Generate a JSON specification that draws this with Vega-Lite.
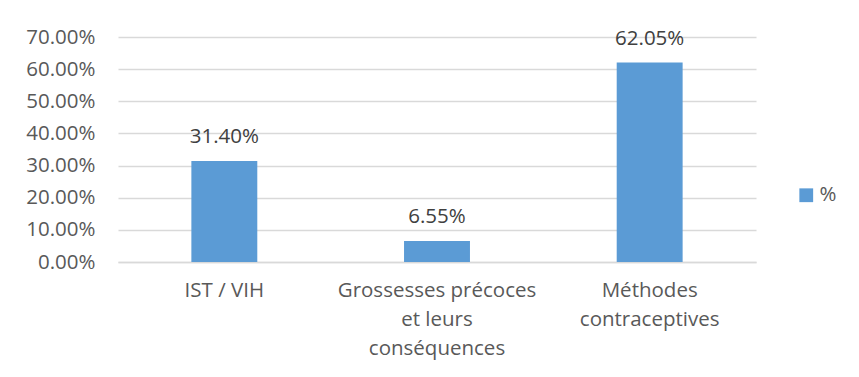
{
  "$schema": "https://vega.github.io/schema/vega-lite/v6.json",
  "autosize": {"type": "none"},
  "width": 638,
  "height": 225,
  "padding": {"left": 118, "top": 37, "right": 103, "bottom": 115},
  "background": "white",
  "data": {"values": [
    {"theme": "IST / VIH", "pct": 0.314, "serie": "%"},
    {"theme": "Grossesses précoces|et leurs|conséquences", "pct": 0.0655, "serie": "%"},
    {"theme": "Méthodes|contraceptives", "pct": 0.6205, "serie": "%"}
  ]},
  "encoding": {
    "x": {
      "field": "theme", "type": "nominal", "sort": null,
      "scale": {"paddingInner": 0.69, "paddingOuter": 0.345},
      "axis": {
        "title": null, "labelAngle": 0, "ticks": false,
        "domainColor": "#D9D9D9", "domainWidth": 1.5,
        "labelExpr": "split(datum.label, '|')",
        "labelLimit": 0, "labelOverlap": false,
        "labelFont": "Open Sans", "labelFontSize": 20.5, "labelColor": "#595959",
        "labelPadding": 18, "labelLineHeight": 29, "labelBaseline": "top"
      }
    },
    "y": {
      "field": "pct", "type": "quantitative",
      "scale": {"domain": [0, 0.7]},
      "axis": {
        "title": null, "format": ".2%", "values": [0, 0.1, 0.2, 0.3, 0.4, 0.5, 0.6, 0.7],
        "domain": false, "ticks": false, "labelPadding": 23,
        "gridColor": "#D9D9D9", "gridWidth": 1.5,
        "labelFont": "Open Sans", "labelFontSize": 20.5, "labelColor": "#595959"
      }
    }
  },
  "layer": [
    {
      "mark": {"type": "bar", "color": "#5B9BD5"},
      "encoding": {
        "color": {
          "field": "serie", "type": "nominal",
          "scale": {"range": ["#5B9BD5"]},
          "legend": {
            "title": null, "orient": "none", "legendX": 678, "legendY": 148,
            "symbolType": "square", "symbolSize": 190, "symbolStrokeWidth": 0,
            "labelFont": "Open Sans", "labelFontSize": 20.5, "labelColor": "#595959", "labelOffset": 3
          }
        }
      }
    },
    {
      "mark": {"type": "text", "baseline": "alphabetic", "dy": -18, "font": "Open Sans", "fontSize": 20.5, "color": "#404040"},
      "encoding": {"text": {"field": "pct", "type": "quantitative", "format": ".2%"}}
    }
  ],
  "config": {"view": {"stroke": null}}
}
